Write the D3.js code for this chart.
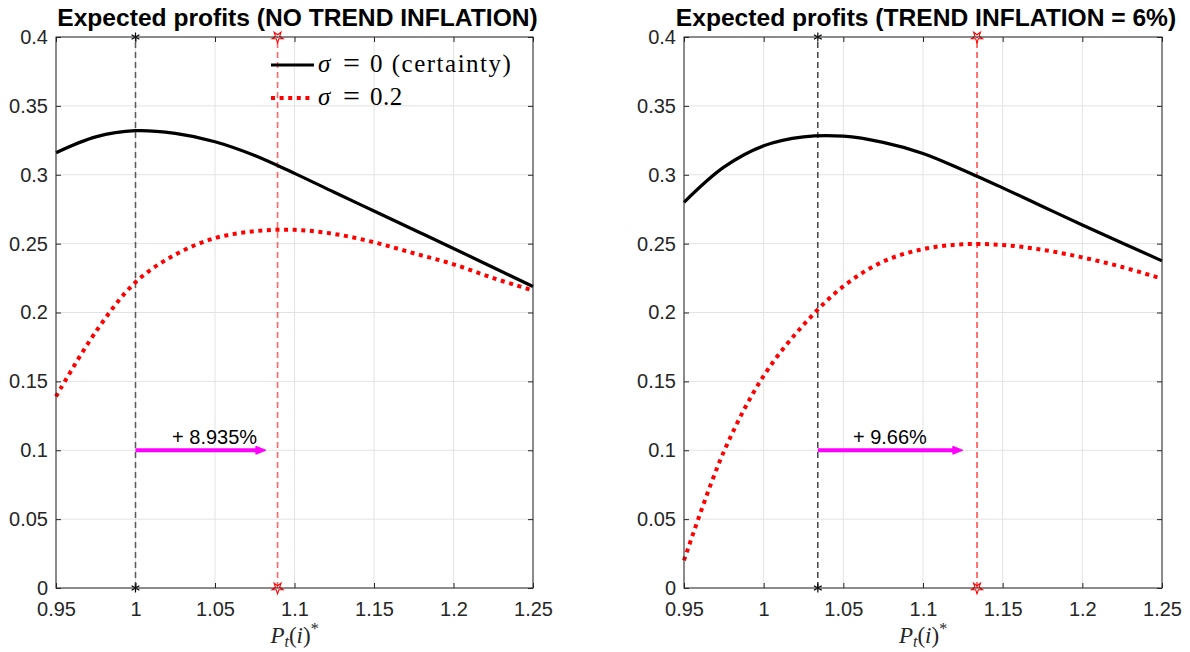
<!DOCTYPE html>
<html>
<head>
<meta charset="utf-8">
<script src="https://cdn.jsdelivr.net/npm/d3@7"></script>
<style>
  body { margin: 0; background: #fff; }
  svg { display: block; }
</style>
</head>
<body>
<svg id="chart" width="1190" height="652"></svg>
<script>
// price grid P_t(i)* and expected profits
const priceGrid = [0.95, 0.975, 1.0, 1.025, 1.05, 1.075, 1.1, 1.125, 1.15, 1.175, 1.2, 1.225, 1.25];

const profitNoTrendCertain = [0.316, 0.3275, 0.332, 0.330, 0.324, 0.314, 0.301, 0.2873, 0.2737, 0.2601, 0.2465, 0.2327, 0.2189];
const profitNoTrendRisky   = [0.139, 0.186, 0.222, 0.242, 0.254, 0.259, 0.260, 0.257, 0.251, 0.243, 0.235, 0.225, 0.216];
const profitTrendCertain   = [0.280, 0.3055, 0.321, 0.3275, 0.328, 0.3235, 0.3155, 0.3035, 0.2905, 0.277, 0.2635, 0.2505, 0.2375];
const profitTrendRisky     = [0.020, 0.099, 0.154, 0.191, 0.219, 0.237, 0.246, 0.2495, 0.249, 0.2455, 0.240, 0.233, 0.2245];

// optimal prices [certainty, sigma = 0.2], arrow tips and label start
const optNoTrend = [1.0, 1.08935];
const optTrend = [1.034, 1.1339];
const arrowEnd = [1.082, 1.125];
const gainLabelX = [1.023, 1.056];
const gainLabels = ["+ 8.935%", "+ 9.66%"];
const arrowLevel = 0.1;

const titles = ["Expected profits (NO TREND INFLATION)", "Expected profits (TREND INFLATION = 6%)"];
const legendLabels = ["0 (certainty)", "0.2"];

const xTicks = [0.95, 1, 1.05, 1.1, 1.15, 1.2, 1.25];
const yTicks = [0, 0.05, 0.1, 0.15, 0.2, 0.25, 0.3, 0.35, 0.4];

const svg = d3.select("#chart");
const plotTop = 37, H = 551;
const axisColor = "#262626";
const sans = "'Liberation Sans', Arial, sans-serif";
const serif = "'Liberation Serif', 'DejaVu Serif', serif";

function asteriskPath(r) {
    let p = "";
    for (let k = 0; k < 3; k++) {
        const a = Math.PI / 2 + k * Math.PI / 3;
        const dx = r * Math.cos(a), dy = r * Math.sin(a);
        p += `M${-dx},${-dy}L${dx},${dy}`;
    }
    return p;
}

function drawPanel(left, W, certain, risky, opt, idx) {
    const g = svg.append("g").attr("transform", `translate(${left},${plotTop})`);

    const x = d3.scaleLinear().domain([0.95, 1.25]).range([0, W]);
    const y = d3.scaleLinear().domain([0, 0.4]).range([H, 0]);

    // grid
    g.append("g").selectAll("line").data(xTicks).join("line")
        .attr("x1", d => x(d)).attr("x2", d => x(d))
        .attr("y1", 0).attr("y2", H)
        .attr("stroke", "#e3e3e3").attr("stroke-width", 1);
    g.append("g").selectAll("line").data(yTicks).join("line")
        .attr("y1", d => y(d)).attr("y2", d => y(d))
        .attr("x1", 0).attr("x2", W)
        .attr("stroke", "#e3e3e3").attr("stroke-width", 1);

    // optimal price markers
    const left0 = idx === 0;
    const vColors = left0 ? ["rgba(0,0,0,0.6)", "rgba(255,0,0,0.6)"] : ["#000", "#ff0000"];
    const vWidth = left0 ? 1.6 : 1.1;
    opt.forEach((p, i) => {
        g.append("line")
            .attr("x1", x(p)).attr("x2", x(p))
            .attr("y1", y(0)).attr("y2", y(0.4))
            .attr("stroke", vColors[i]).attr("stroke-width", vWidth)
            .attr("stroke-dasharray", "6,4");
    });

    // curves
    const line = d3.line()
        .x((d, i) => x(priceGrid[i]))
        .y(d => y(d))
        .curve(d3.curveCatmullRom.alpha(0.5));

    g.append("path").datum(certain)
        .attr("d", line)
        .attr("fill", "none").attr("stroke", "#000").attr("stroke-width", 3.2);
    g.append("path").datum(risky)
        .attr("d", line)
        .attr("fill", "none").attr("stroke", "#ff0000").attr("stroke-width", 4)
        .attr("stroke-dasharray", "4,4.6");

    // end markers
    [0, 0.4].forEach(v => {
        g.append("path")
            .attr("transform", `translate(${x(opt[0])},${y(v)})`)
            .attr("d", asteriskPath(4.5))
            .attr("stroke", "#000").attr("stroke-width", 1.2).attr("fill", "none");
        g.append("path")
            .attr("transform", `translate(${x(opt[1])},${y(v)}) rotate(180)`)
            .attr("d", d3.symbol(d3.symbolStar, 38)())
            .attr("stroke", "#ff0000").attr("stroke-width", 1.1).attr("fill", "none");
    });

    // gain arrow
    const ay = y(arrowLevel);
    const x0 = x(opt[0]), x1 = x(arrowEnd[idx]);
    g.append("line")
        .attr("x1", x0).attr("x2", x1 - 8)
        .attr("y1", ay).attr("y2", ay)
        .attr("stroke", "#ff00ff").attr("stroke-width", 4);
    g.append("path")
        .attr("d", `M${x1 - 10},${ay - 4}L${x1},${ay}L${x1 - 10},${ay + 4}Z`)
        .attr("fill", "#ff00ff").attr("stroke", "#ff00ff").attr("stroke-width", 1)
        .attr("stroke-linejoin", "round");
    g.append("text")
        .attr("x", x(gainLabelX[idx])).attr("y", ay - 6)
        .attr("font-family", sans).attr("font-size", 20)
        .attr("fill", "#000")
        .text(gainLabels[idx]);

    // axes box + inward ticks
    g.append("rect").attr("width", W).attr("height", H)
        .attr("fill", "none").attr("stroke", axisColor).attr("stroke-width", 1);

    const fmt = d => String(d);
    const styleAxis = a => {
        a.select(".domain").remove();
        a.selectAll("line").attr("stroke", axisColor);
        a.selectAll("text").attr("fill", axisColor)
            .attr("font-family", sans).attr("font-size", 20);
    };
    g.append("g").attr("transform", `translate(0,${H})`)
        .call(d3.axisBottom(x).tickValues(xTicks).tickFormat(fmt).tickSize(-5).tickPadding(14))
        .call(styleAxis);
    g.append("g")
        .call(d3.axisTop(x).tickValues(xTicks).tickFormat("").tickSize(-5))
        .call(styleAxis);
    g.append("g")
        .call(d3.axisLeft(y).tickValues(yTicks).tickFormat(fmt).tickSize(-5).tickPadding(8))
        .call(styleAxis);
    g.append("g").attr("transform", `translate(${W},0)`)
        .call(d3.axisRight(y).tickValues(yTicks).tickFormat("").tickSize(-5))
        .call(styleAxis);

    // title
    g.append("text")
        .attr("x", W / 2 + 3).attr("y", -11)
        .attr("text-anchor", "middle")
        .attr("font-family", sans).attr("font-weight", "bold").attr("font-size", 24.6)
        .attr("fill", "#000")
        .text(titles[idx]);

    // x label P_t(i)^*
    const xl = g.append("text")
        .attr("x", W / 2).attr("y", H + 55)
        .attr("text-anchor", "middle")
        .attr("font-family", serif).attr("font-size", 23)
        .attr("fill", axisColor);
    xl.append("tspan").attr("font-style", "italic").text("P");
    xl.append("tspan").attr("font-style", "italic").attr("font-size", 16).attr("dy", 4).text("t");
    xl.append("tspan").attr("dy", -4).text("(");
    xl.append("tspan").attr("font-style", "italic").text("i");
    xl.append("tspan").text(")");
    xl.append("tspan").attr("font-size", 16).attr("dy", -9).text("*");

    return {g, x, y};
}

drawPanel(56, 477, profitNoTrendCertain, profitNoTrendRisky, optNoTrend, 0);
drawPanel(684, 478, profitTrendCertain, profitTrendRisky, optTrend, 1);

// legend (left panel, no box)
const lg = svg.append("g");
const legendRows = [
    {y: 65, stroke: "#000", dash: null, w: 3.2},
    {y: 98, stroke: "#ff0000", dash: "4,4.6", w: 4}
];
legendRows.forEach((r, i) => {
    lg.append("line")
        .attr("x1", 271).attr("x2", 314)
        .attr("y1", r.y).attr("y2", r.y)
        .attr("stroke", r.stroke).attr("stroke-width", r.w)
        .attr("stroke-dasharray", r.dash);
    const t = lg.append("text")
        .attr("y", r.y + 7)
        .attr("font-family", serif).attr("font-size", 25)
        .attr("fill", "#000");
    t.append("tspan").attr("x", 318).attr("font-style", "italic").text("σ");
    t.append("tspan").attr("x", 343).attr("font-size", 30).attr("dy", 1).text("=");
    t.append("tspan").attr("x", 370).attr("dy", -1)
        .attr("letter-spacing", i === 0 ? 1.5 : 0.5)
        .text(legendLabels[i]);
});
</script>
</body>
</html>
